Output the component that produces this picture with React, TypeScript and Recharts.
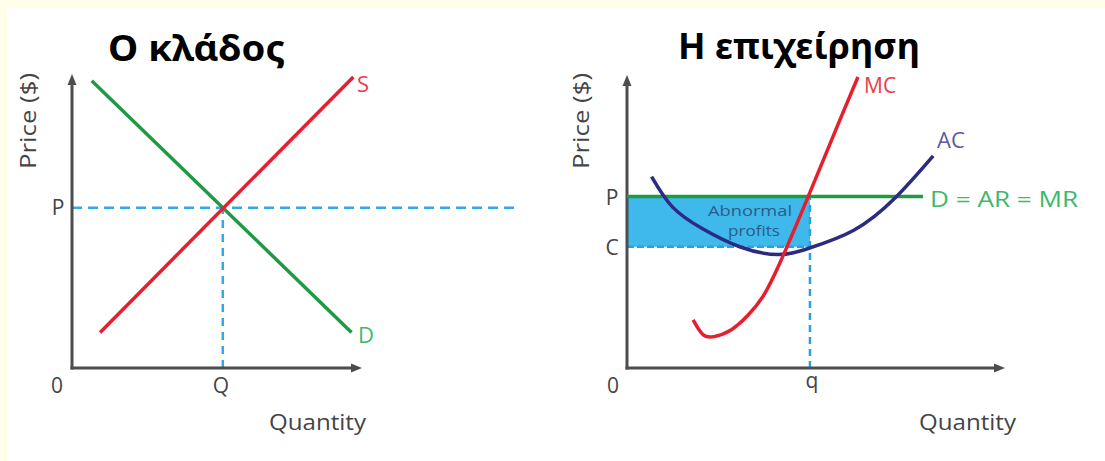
import React from 'react';
import { LineChart, Line, XAxis, YAxis, ReferenceLine, ReferenceArea } from 'recharts';

// ---------- Left panel: the industry (Ο κλάδος) ----------
const industryDemand = [
  { q: 0.68, p: 9.77 },
  { q: 9.64, p: 1.21 },
];
const industrySupply = [
  { q: 0.97, p: 1.21 },
  { q: 9.7, p: 9.9 },
];
const industryPrice = 5.45;
const industryQuantity = 5.2;
const industryPriceLineEnd = 15.3;

// ---------- Right panel: the firm (Η επιχείρηση) ----------
const firmMC = [
  { q: 1.75, p: 1.64 },
  { q: 2.0, p: 1.15 },
  { q: 2.3, p: 1.07 },
  { q: 2.75, p: 1.3 },
  { q: 3.2, p: 1.8 },
  { q: 3.6, p: 2.45 },
  { q: 4.05, p: 3.6 },
  { q: 4.79, p: 5.84 },
  { q: 5.63, p: 8.46 },
  { q: 6.11, p: 9.93 },
];
const firmAC = [
  { q: 0.65, p: 6.53 },
  { q: 1.2, p: 5.5 },
  { q: 2.0, p: 4.75 },
  { q: 3.0, p: 4.13 },
  { q: 4.0, p: 3.87 },
  { q: 4.84, p: 4.1 },
  { q: 6.0, p: 4.7 },
  { q: 7.09, p: 5.8 },
  { q: 8.1, p: 7.24 },
];
const firmPrice = 5.85;
const firmCost = 4.14;
const firmQuantity = 4.84;
const firmDemandEnd = 7.83;
const firmDemand = [
  { q: 0, p: firmPrice },
  { q: firmDemandEnd, p: firmPrice },
];

// ---------- Text ----------
const titles = ['Ο κλάδος', 'Η επιχείρηση'];
const yAxisTitle = 'Price ($)';
const xAxisTitle = 'Quantity';
const leftTickLabels = { origin: '0', price: 'P', quantity: 'Q' };
const rightTickLabels = { origin: '0', price: 'P', cost: 'C', quantity: 'q' };
const seriesLabels = { supply: 'S', demand: 'D', mc: 'MC', ac: 'AC', firmDemand: 'D = AR = MR' };
const profitLabel = ['Abnormal', 'profits'];

// ---------- Styles ----------
const AXIS = '#4d4d4d';
const RED = '#e61e2d';
const GREEN = '#1f9a44';
const GREEN_LABEL = '#3cb96b';
const NAVY = '#2d2a82';
const NAVY_LABEL = '#5d59a8';
const DASH = '#36a9e5';
const FILL = '#3fb8ec';
const TEXT = '#444';
const FONT = '"Open Sans", "Noto Sans", sans-serif';

const ArrowLine = (props: any) => {
  const { x1, y1, x2, y2 } = props;
  const dx = x2 - x1;
  const dy = y2 - y1;
  const len = Math.hypot(dx, dy) || 1;
  const ux = dx / len;
  const uy = dy / len;
  const L = 11;
  const W = 4.5;
  const bx = x2 - ux * L;
  const by = y2 - uy * L;
  const sx = x1 - ux * 1.5;
  const sy = y1 - uy * 1.5;
  const pts = `${x2},${y2} ${bx - uy * W},${by + ux * W} ${bx + uy * W},${by - ux * W}`;
  return (
    <g>
      <line x1={sx} y1={sy} x2={bx + ux} y2={by + uy} stroke={AXIS} strokeWidth={3} />
      <polygon points={pts} fill={AXIS} />
    </g>
  );
};

const W_LEFT = 545;
const W_RIGHT = 555;
const H = 461;

export default function App() {
  return (
    <div
      style={{
        position: 'absolute',
        left: 0,
        top: 0,
        width: 1105,
        height: 461,
        background: '#fffeea',
        overflow: 'hidden',
      }}
    >
      <div style={{ position: 'absolute', left: 7, top: 8, right: 0, bottom: 0, background: '#ffffff' }} />

      {/* Left chart */}
      <div style={{ position: 'absolute', left: 0, top: 0 }}>
        <LineChart width={W_LEFT} height={H} margin={{ top: 74, right: W_LEFT - 362, bottom: H - 368, left: 72 }}>
          <XAxis type="number" dataKey="q" domain={[0, 10]} hide allowDataOverflow />
          <YAxis type="number" dataKey="p" domain={[0, 10]} hide allowDataOverflow />
          <ReferenceLine
            segment={[{ x: 0, y: industryPrice }, { x: industryPriceLineEnd, y: industryPrice }]}
            stroke={DASH}
            strokeWidth={2.5}
            strokeDasharray="10 6"
            ifOverflow="visible"
          />
          <ReferenceLine
            segment={[{ x: industryQuantity, y: 0 }, { x: industryQuantity, y: industryPrice }]}
            stroke={DASH}
            strokeWidth={2.5}
            strokeDasharray="8 6"
            ifOverflow="visible"
          />
          <ReferenceLine segment={[{ x: 0, y: 0 }, { x: 0, y: 10 }]} shape={ArrowLine} ifOverflow="visible" />
          <ReferenceLine segment={[{ x: 0, y: 0 }, { x: 10, y: 0 }]} shape={ArrowLine} ifOverflow="visible" />
          <Line
            data={industryDemand}
            dataKey="p"
            type="linear"
            stroke={GREEN}
            strokeWidth={3.5}
            dot={false}
            activeDot={false}
            isAnimationActive={false}
          />
          <Line
            data={industrySupply}
            dataKey="p"
            type="linear"
            stroke={RED}
            strokeWidth={3.5}
            dot={false}
            activeDot={false}
            isAnimationActive={false}
          />
        </LineChart>
      </div>

      {/* Right chart */}
      <div style={{ position: 'absolute', left: 550, top: 0 }}>
        <LineChart width={W_RIGHT} height={H} margin={{ top: 75, right: W_RIGHT - 455, bottom: H - 368, left: 77 }}>
          <XAxis type="number" dataKey="q" domain={[0, 10]} hide allowDataOverflow />
          <YAxis type="number" dataKey="p" domain={[0, 10]} hide allowDataOverflow />
          <ReferenceArea
            x1={0}
            x2={firmQuantity}
            y1={firmCost}
            y2={firmPrice}
            fill={FILL}
            fillOpacity={1}
            stroke="none"
            ifOverflow="visible"
          />
          <ReferenceLine
            segment={[{ x: 0, y: firmCost }, { x: firmQuantity, y: firmCost }]}
            stroke="#2aa0dc"
            strokeWidth={2.5}
            strokeDasharray="7 3"
            ifOverflow="visible"
          />
          <ReferenceLine
            segment={[{ x: firmQuantity, y: 0 }, { x: firmQuantity, y: firmPrice }]}
            stroke="#2aa0dc"
            strokeWidth={2.5}
            strokeDasharray="7 5"
            ifOverflow="visible"
          />
          <ReferenceLine segment={[{ x: 0, y: 0 }, { x: 0, y: 10 }]} shape={ArrowLine} ifOverflow="visible" />
          <ReferenceLine segment={[{ x: 0, y: 0 }, { x: 10, y: 0 }]} shape={ArrowLine} ifOverflow="visible" />
          <Line
            data={firmDemand}
            dataKey="p"
            type="linear"
            stroke={GREEN}
            strokeWidth={3.5}
            dot={false}
            activeDot={false}
            isAnimationActive={false}
          />
          <Line
            data={firmAC}
            dataKey="p"
            type="natural"
            stroke={NAVY}
            strokeWidth={3.5}
            dot={false}
            activeDot={false}
            isAnimationActive={false}
          />
          <Line
            data={firmMC}
            dataKey="p"
            type="natural"
            stroke={RED}
            strokeWidth={3.5}
            dot={false}
            activeDot={false}
            isAnimationActive={false}
          />
        </LineChart>
      </div>

      {/* Text overlay */}
      <svg
        width={1105}
        height={461}
        style={{ position: 'absolute', left: 0, top: 0, pointerEvents: 'none' }}
      >
        <g fontFamily='"Noto Sans", "Open Sans", sans-serif' fontWeight={700} fontSize={36} fill="#000">
          <text x={108} y={61} textLength={177} lengthAdjust="spacingAndGlyphs">{titles[0]}</text>
          <text x={678} y={59} textLength={242} lengthAdjust="spacingAndGlyphs">{titles[1]}</text>
        </g>
        <g fontFamily={FONT} fill={TEXT}>
          <text
            transform="translate(36,121) rotate(-90)"
            textAnchor="middle"
            fontSize={21}
            textLength={96}
            lengthAdjust="spacingAndGlyphs"
          >
            {yAxisTitle}
          </text>
          <text
            transform="translate(589,121) rotate(-90)"
            textAnchor="middle"
            fontSize={21}
            textLength={96}
            lengthAdjust="spacingAndGlyphs"
          >
            {yAxisTitle}
          </text>
          <text x={269} y={430} fontSize={22} textLength={97} lengthAdjust="spacingAndGlyphs">{xAxisTitle}</text>
          <text x={919} y={430} fontSize={22} textLength={97} lengthAdjust="spacingAndGlyphs">{xAxisTitle}</text>

          <text x={57} y={393} fontSize={21} textAnchor="middle">{leftTickLabels.origin}</text>
          <text x={58} y={215} fontSize={21} textAnchor="middle">{leftTickLabels.price}</text>
          <text x={221} y={393} fontSize={21} textAnchor="middle">{leftTickLabels.quantity}</text>

          <text x={613} y={393} fontSize={21} textAnchor="middle">{rightTickLabels.origin}</text>
          <text x={612} y={205} fontSize={21} textAnchor="middle">{rightTickLabels.price}</text>
          <text x={612} y={255} fontSize={21} textAnchor="middle">{rightTickLabels.cost}</text>
          <text x={812} y={388} fontSize={21} textAnchor="middle">{rightTickLabels.quantity}</text>
        </g>
        <g fontFamily={FONT} fontSize={22}>
          <text x={357} y={92} fill="#ee3b4a">{seriesLabels.supply}</text>
          <text x={358} y={343} fill={GREEN_LABEL}>{seriesLabels.demand}</text>
          <text x={864} y={93} fontSize={21} fill="#ee3b4a">{seriesLabels.mc}</text>
          <text x={937} y={148} fill={NAVY_LABEL}>{seriesLabels.ac}</text>
          <text x={930} y={207} fill={GREEN_LABEL} textLength={148} lengthAdjust="spacingAndGlyphs">
            {seriesLabels.firmDemand}
          </text>
        </g>
        <g fontFamily={FONT} fontSize={15} fill="#2b5d85">
          <text x={708} y={216} textLength={84} lengthAdjust="spacingAndGlyphs">{profitLabel[0]}</text>
          <text x={728} y={236} textLength={52} lengthAdjust="spacingAndGlyphs">{profitLabel[1]}</text>
        </g>
      </svg>
    </div>
  );
}
